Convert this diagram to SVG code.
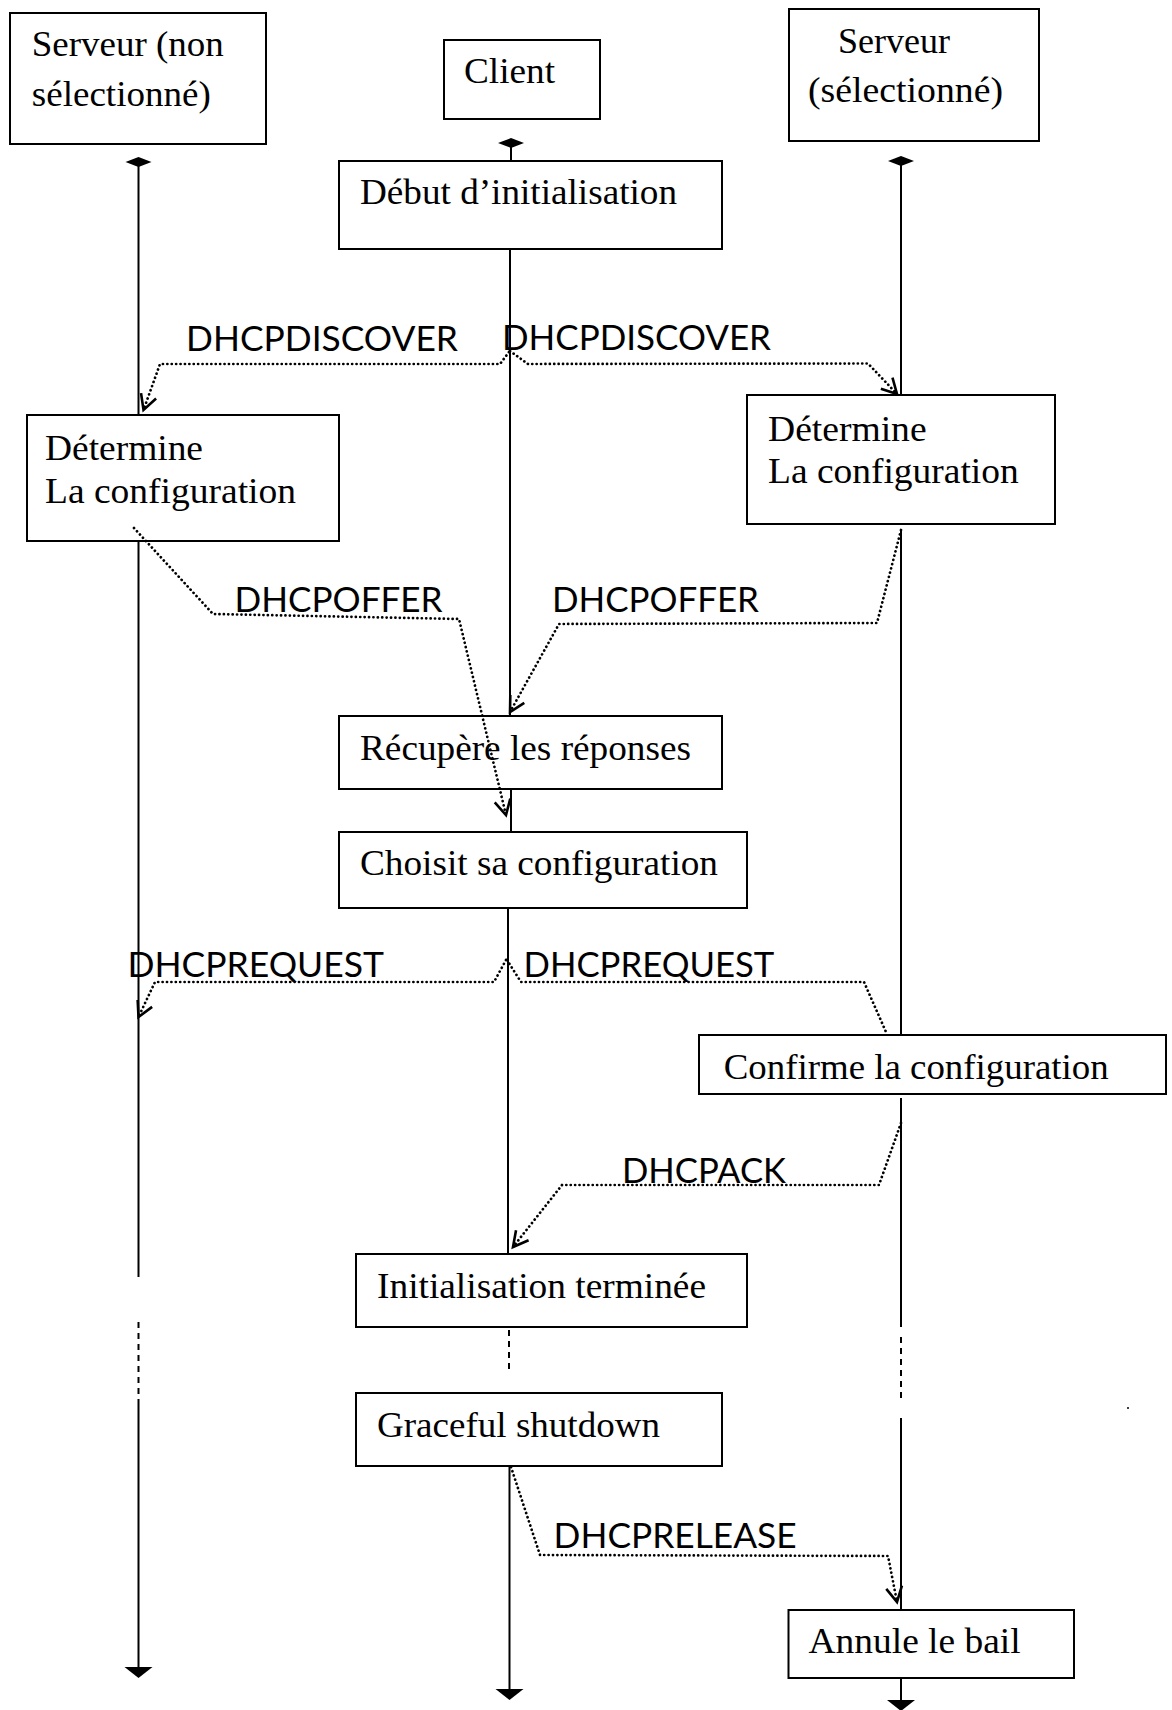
<svg xmlns="http://www.w3.org/2000/svg" width="1172" height="1710" viewBox="0 0 1172 1710">
  <style>
    .box { fill: #ffffff; stroke: #000000; stroke-width: 2; }
    .serif { font-family: "Liberation Serif", "Times New Roman", serif; font-size: 36px; fill: #000000; }
    .msg { font-family: "Lato", "Open Sans", sans-serif; font-size: 34px; fill: #000000; }
    .life { stroke: #000000; stroke-width: 2; fill: none; }
    .life-dash { stroke: #000000; stroke-width: 2; fill: none; stroke-dasharray: 6 5; }
    .dot { stroke: #000000; stroke-width: 2.7; fill: none; stroke-linecap: round; stroke-dasharray: 0.1 4.3; }
    .head { fill: #000000; stroke: none; }
  </style>
  <defs>
    <marker id="vee" markerUnits="userSpaceOnUse" markerWidth="24" markerHeight="24" viewBox="-18 -12 24 24" refX="0" refY="0" orient="auto" overflow="visible">
      <path d="M -15 -8 L 0 0 L -15 8" fill="none" stroke="#000000" stroke-width="2.6" stroke-linejoin="miter"/>
    </marker>
  </defs>
  <rect width="1172" height="1710" fill="#ffffff"/>

  <!-- participants -->
  <g id="server-other">
    <rect class="box" x="10" y="13" width="256" height="131"/>
    <text class="serif" x="31.8" y="56" textLength="192" lengthAdjust="spacingAndGlyphs">Serveur (non</text>
    <text class="serif" x="31.8" y="106" textLength="179" lengthAdjust="spacingAndGlyphs">sélectionné)</text>
  </g>
  <g id="client">
    <rect class="box" x="444" y="40" width="156" height="79"/>
    <text class="serif" x="464" y="83" textLength="91" lengthAdjust="spacingAndGlyphs">Client</text>
  </g>
  <g id="server-selected">
    <rect class="box" x="789" y="9" width="250" height="132"/>
    <text class="serif" x="838" y="53" textLength="112" lengthAdjust="spacingAndGlyphs">Serveur</text>
    <text class="serif" x="808" y="102" textLength="195" lengthAdjust="spacingAndGlyphs">(sélectionné)</text>
  </g>

  <!-- client activities -->
  <g id="debut-init">
    <rect class="box" x="339" y="161" width="383" height="88"/>
    <text class="serif" x="360" y="204" textLength="317" lengthAdjust="spacingAndGlyphs">Début d’initialisation</text>
  </g>
  <g id="recupere">
    <rect class="box" x="339" y="716" width="383" height="73"/>
    <text class="serif" x="360" y="760" textLength="331" lengthAdjust="spacingAndGlyphs">Récupère les réponses</text>
  </g>
  <g id="choisit">
    <rect class="box" x="339" y="832" width="408" height="76"/>
    <text class="serif" x="360" y="875" textLength="358" lengthAdjust="spacingAndGlyphs">Choisit sa configuration</text>
  </g>
  <g id="init-terminee">
    <rect class="box" x="356" y="1254" width="391" height="73"/>
    <text class="serif" x="377" y="1298" textLength="329" lengthAdjust="spacingAndGlyphs">Initialisation terminée</text>
  </g>
  <g id="graceful">
    <rect class="box" x="356" y="1393" width="366" height="73"/>
    <text class="serif" x="377" y="1437" textLength="283" lengthAdjust="spacingAndGlyphs">Graceful shutdown</text>
  </g>

  <!-- server activities -->
  <g id="determine-other">
    <rect class="box" x="27" y="415" width="312" height="126"/>
    <text class="serif" x="45" y="460" textLength="158" lengthAdjust="spacingAndGlyphs">Détermine</text>
    <text class="serif" x="45" y="503" textLength="251" lengthAdjust="spacingAndGlyphs">La configuration</text>
  </g>
  <g id="determine-selected">
    <rect class="box" x="747" y="395" width="308" height="129"/>
    <text class="serif" x="768" y="441" textLength="158.6" lengthAdjust="spacingAndGlyphs">Détermine</text>
    <text class="serif" x="768" y="483" textLength="250.7" lengthAdjust="spacingAndGlyphs">La configuration</text>
  </g>
  <g id="confirme">
    <rect class="box" x="699" y="1035" width="467" height="59"/>
    <text class="serif" x="723.7" y="1079" textLength="385" lengthAdjust="spacingAndGlyphs">Confirme la configuration</text>
  </g>
  <g id="annule">
    <rect class="box" x="788.5" y="1610" width="285.5" height="68"/>
    <text class="serif" x="808.6" y="1653" textLength="212" lengthAdjust="spacingAndGlyphs">Annule le bail</text>
  </g>

  <!-- lifelines and messages, drawn over the boxes -->
  <g id="connectors">
    <!-- left server lifeline -->
    <polygon class="head" points="125.5,162 138.5,157 151.5,162 138.5,167"/>
    <line class="life" x1="138.5" y1="162" x2="138.5" y2="415"/>
    <line class="life" x1="138.5" y1="541" x2="138.5" y2="1277"/>
    <line class="life-dash" x1="138.5" y1="1322" x2="138.5" y2="1402"/>
    <line class="life" x1="138.5" y1="1402" x2="138.5" y2="1668"/>
    <polygon class="head" points="124.5,1667 152.5,1667 138.5,1678"/>

    <!-- client lifeline -->
    <polygon class="head" points="498,143 511,138 524,143 511,148"/>
    <line class="life" x1="511" y1="143" x2="511" y2="161"/>
    <line class="life" x1="510" y1="249" x2="510" y2="716"/>
    <line class="life" x1="511" y1="789" x2="511" y2="832"/>
    <line class="life" x1="508" y1="908" x2="508" y2="1254"/>
    <line class="life-dash" x1="509" y1="1330" x2="509" y2="1372"/>
    <line class="life" x1="509.5" y1="1466" x2="509.5" y2="1690"/>
    <polygon class="head" points="495.5,1689 523.5,1689 509.5,1700"/>

    <!-- selected server lifeline -->
    <polygon class="head" points="888,161 901,156 914,161 901,166"/>
    <line class="life" x1="901" y1="161" x2="901" y2="395"/>
    <line class="life" x1="901" y1="529" x2="901" y2="1035"/>
    <line class="life" x1="901" y1="1098" x2="901" y2="1327"/>
    <line class="life-dash" x1="901" y1="1337" x2="901" y2="1400"/>
    <line class="life" x1="901" y1="1418" x2="901" y2="1610"/>
    <line class="life" x1="901" y1="1678" x2="901" y2="1701"/>
    <polygon class="head" points="887,1700 915,1700 901,1711"/>

    <!-- DHCPDISCOVER -->
    <path class="dot" d="M 509 352 L 500 364 L 160 364 L 143.5 410" marker-end="url(#vee)"/>
    <path class="dot" d="M 510 351 L 528 364 L 868 363.5 L 897 394" marker-end="url(#vee)"/>
    <text class="msg" x="186" y="351" textLength="272" lengthAdjust="spacingAndGlyphs">DHCPDISCOVER</text>
    <text class="msg" x="502" y="350" textLength="269" lengthAdjust="spacingAndGlyphs">DHCPDISCOVER</text>

    <!-- DHCPOFFER -->
    <path class="dot" d="M 134 528 L 213 614 L 459 619 L 506 815" marker-end="url(#vee)"/>
    <path class="dot" d="M 901 530 L 877 623 L 559 624 L 510 712" marker-end="url(#vee)"/>
    <text class="msg" x="234.6" y="612" textLength="208" lengthAdjust="spacingAndGlyphs">DHCPOFFER</text>
    <text class="msg" x="552" y="612" textLength="207" lengthAdjust="spacingAndGlyphs">DHCPOFFER</text>

    <!-- DHCPREQUEST -->
    <path class="dot" d="M 506 960 L 494 982 L 155 982 L 138.5 1017" marker-end="url(#vee)"/>
    <path class="dot" d="M 507 960 L 521 982 L 864 982 L 886 1032"/>
    <text class="msg" x="127.4" y="977" textLength="256.5" lengthAdjust="spacingAndGlyphs">DHCPREQUEST</text>
    <text class="msg" x="523.6" y="977" textLength="250.7" lengthAdjust="spacingAndGlyphs">DHCPREQUEST</text>

    <!-- DHCPACK -->
    <path class="dot" d="M 901 1123 L 879 1185 L 562 1185 L 513 1247" marker-end="url(#vee)"/>
    <text class="msg" x="622" y="1183" textLength="164" lengthAdjust="spacingAndGlyphs">DHCPACK</text>

    <!-- DHCPRELEASE -->
    <path class="dot" d="M 511 1467 L 540 1555 L 888 1556 L 897 1602" marker-end="url(#vee)"/>
    <text class="msg" x="553.6" y="1548" textLength="243" lengthAdjust="spacingAndGlyphs">DHCPRELEASE</text>

    <circle cx="1128" cy="1408" r="1" fill="#000000"/>
  </g>
</svg>
